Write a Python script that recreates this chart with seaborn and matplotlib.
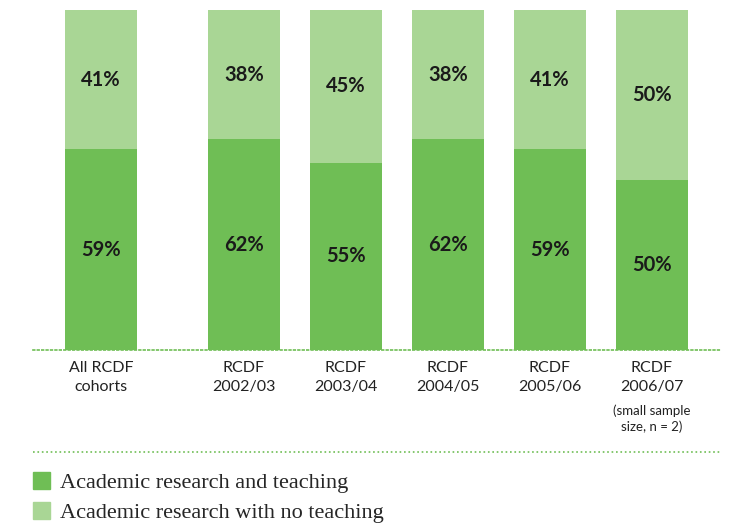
import numpy as np
import pandas as pd
import matplotlib
matplotlib.use('Agg')
import matplotlib.pyplot as plt
from matplotlib.lines import Line2D
from matplotlib.patches import Patch
import seaborn as sns

cohorts = ['All RCDF\ncohorts', 'RCDF\n2002/03', 'RCDF\n2003/04', 'RCDF\n2004/05', 'RCDF\n2005/06', 'RCDF\n2006/07']
positions = [0, 1.4, 2.4, 3.4, 4.4, 5.4]
with_teaching = [59, 62, 55, 62, 59, 50]
no_teaching = [41, 38, 45, 38, 41, 50]

dark = '#6fbe55'
light = '#a9d695'

sns.set_style('white')
plt.rcParams['font.family'] = ['Lato', 'DejaVu Sans']

df = pd.DataFrame({'pos': positions, 'teach': with_teaching, 'noteach': no_teaching})
df['total'] = df['teach'] + df['noteach']

fig = plt.figure(figsize=(7.38, 5.26), dpi=100)
ax = fig.add_axes([33 / 738, 1 - 350 / 526, (720 - 33) / 738, 340 / 526])

sns.barplot(data=df, x='pos', y='total', native_scale=True, color=light, saturation=1, width=0.7,
            linewidth=0, ax=ax)
sns.barplot(data=df, x='pos', y='teach', native_scale=True, color=dark, saturation=1, width=0.7,
            linewidth=0, ax=ax)

# labels in the middle of the light (upper) segment
for patch, v, t in zip(ax.containers[0], no_teaching, with_teaching):
    x = patch.get_x() + patch.get_width() / 2
    ax.text(x, t + v / 2, '%d%%' % v, ha='center', va='center', fontsize=14.5, fontweight='bold', color='#1a1a1a')
ax.bar_label(ax.containers[1], labels=['%d%%' % v for v in with_teaching], label_type='center',
             fontsize=14.5, fontweight='bold', color='#1a1a1a')

ax.set_xlim(-0.667, 6.067)
ax.set_ylim(0, 100)
ax.set_xticks(positions)
ax.set_xticklabels(cohorts, fontsize=11.5, color='#222222', linespacing=1.4)
ax.tick_params(axis='x', length=0, pad=8)
ax.set_yticks([])
ax.set_xlabel('')
ax.set_ylabel('')
for s in ['left', 'right', 'top']:
    ax.spines[s].set_visible(False)
ax.spines['bottom'].set_color(dark)
ax.spines['bottom'].set_linestyle(':')
ax.spines['bottom'].set_linewidth(1.2)

ax.text(5.4, -0.16, '(small sample\nsize, n = 2)', transform=ax.get_xaxis_transform(),
        ha='center', va='top', fontsize=9.5, color='#222222', linespacing=1.35)

fig.add_artist(Line2D([33 / 738, 720 / 738], [1 - 452 / 526] * 2, color=dark,
                      linestyle=':', linewidth=1.2))

handles = [Patch(color=dark, label='Academic research and teaching'),
           Patch(color=light, label='Academic research with no teaching')]
fig.legend(handles=handles, loc='upper left', bbox_to_anchor=(33 / 738, 1 - 472 / 526),
           frameon=False, prop={'family': 'Liberation Serif', 'size': 16},
           borderpad=0, borderaxespad=0,
           handlelength=0.78, handleheight=0.78, handletextpad=0.45, labelspacing=0.4)

fig.savefig('out.png', dpi=100)
